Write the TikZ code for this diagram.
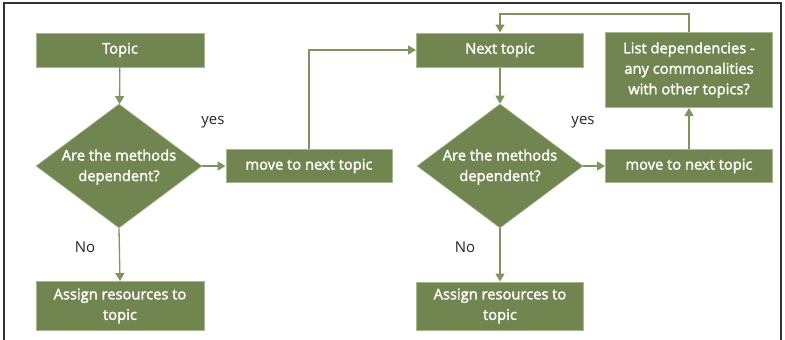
\documentclass[tikz,border=0pt]{standalone}
\usepackage{fontspec}
\setmainfont{Open Sans}[BoldFont={Open Sans}, BoldFeatures={FakeBold=2}]
\usetikzlibrary{shapes.geometric,arrows.meta}
\definecolor{boxfill}{RGB}{112,133,79}
\definecolor{boxline}{RGB}{165,185,140}
\definecolor{conn}{RGB}{125,148,95}
\tikzset{
  box/.style={rectangle, fill=boxfill, draw=boxline, line width=1pt, text=white, font=\fontsize{14.7}{20.5}\selectfont\bfseries, align=center, inner sep=0pt},
  decision/.style={diamond, fill=boxfill, draw=boxline, line width=0.6pt, inner sep=0pt},
  dtext/.style={text=white, font=\fontsize{14.7}{20.5}\selectfont\bfseries, align=center},
  flow/.style={draw=conn, line width=1.3pt, -{Triangle[length=8pt,width=9pt]}},
  lbl/.style={font=\fontsize{15}{16}\selectfont, text=black!85}
}
\begin{document}
\begin{tikzpicture}[x=1pt,y=-1pt]
\useasboundingbox (0,0) rectangle (785,340);
\fill[white] (0,0) rectangle (785,340);
\draw[line width=2pt, black!80] (4,3) rectangle (781,350);
% left column
\node[box, minimum width=168pt, minimum height=34pt] (topic) at (120,50) {Topic};
\node[decision, minimum width=166pt, minimum height=124pt] (d1) at (119,166) {};
\node[dtext] (d1t) at (119,167) {Are the methods\\dependent?};
\node[box, minimum width=166pt, minimum height=33pt] (m1) at (309,166) {move to next topic};
\node[box, minimum width=168pt, minimum height=49pt] (a1) at (120,306) {Assign resources to\\topic};
\node[lbl] (yes1) at (213,122) {yes};
\node[lbl] (no1) at (85,247) {No};
% right column
\node[box, minimum width=167pt, minimum height=34pt] (next) at (500,50) {Next topic};
\node[decision, minimum width=166pt, minimum height=124pt] (d2) at (500,166) {};
\node[dtext] (d2t) at (500,167) {Are the methods\\dependent?};
\node[box, minimum width=167pt, minimum height=33pt] (m2) at (689,166) {move to next topic};
\node[box, minimum width=167pt, minimum height=75pt] (list) at (689,70) {List dependencies -\\any commonalities\\with other topics?};
\node[box, minimum width=167pt, minimum height=48pt] (a2) at (500,306) {Assign resources to\\topic};
\node[lbl] (yes2) at (583,122) {yes};
\node[lbl] (no2) at (465,247) {No};
% connectors
\draw[flow] (topic) -- (d1);
\draw[flow] (d1.east) -- (m1.west);
\draw[flow] (d1.south) -- (a1.north);
\draw[flow] (m1.north) |- (next.west);
\draw[flow] (next) -- (d2);
\draw[flow] (d2.east) -- (m2.west);
\draw[flow] (d2.south) -- (a2.north);
\draw[flow] (m2.north) -- (list.south);
\coordinate (top) at (689,14);
\draw[flow] (list.north) -- (top) -| (next.north);
\end{tikzpicture}
\end{document}
